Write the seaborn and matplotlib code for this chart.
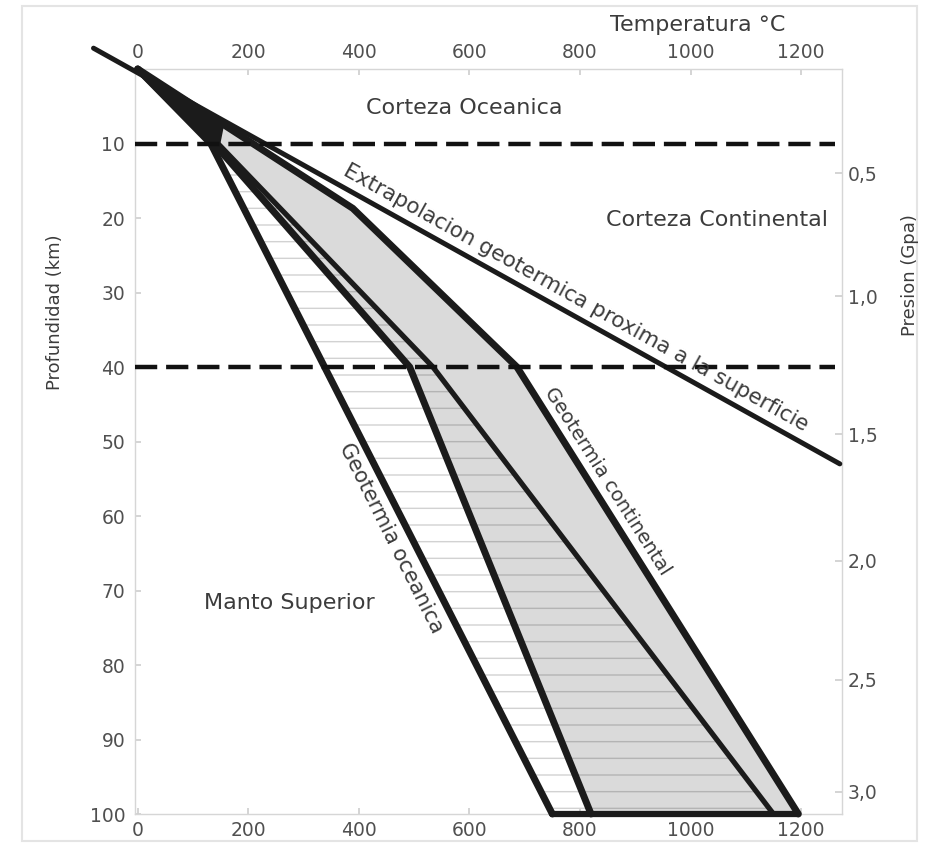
import numpy as np
import pandas as pd
import seaborn as sns
import matplotlib.pyplot as plt
from matplotlib.patches import Rectangle, Polygon

# ---------------- data ----------------
temp_ticks = [0, 200, 400, 600, 800, 1000, 1200]
depth_ticks = [10, 20, 30, 40, 50, 60, 70, 80, 90, 100]
pressure_tick_depth = [14, 30.5, 49, 66, 82, 97]
pressure_labels = ["0,5", "1,0", "1,5", "2,0", "2,5", "3,0"]
crust_boundaries_km = [10, 40]

# geotherms (temperature degC, depth km)
oce_min_T = [0, 132, 750]
oce_min_d = [0, 10, 100]
cont_min_T = [0, 138, 492, 820]
cont_min_d = [0, 10, 40, 100]
oce_max_T = [0, 145, 534, 1150]
oce_max_d = [0, 10, 40, 100]
cont_max_T = [0, 389, 686, 1195]
cont_max_d = [0, 18.7, 40, 100]
extrap_T = [-80, 1270]
extrap_d = [-2.8, 53.0]
wedge_T = [0, 154, 147, 130]
wedge_d = [0, 7.4, 10, 10]

# ---------------- style ----------------
sns.set_theme(style="white")
plt.rcParams['font.family'] = ['DejaVu Sans']
plt.rcParams['hatch.linewidth'] = 1.0

fig = plt.figure(figsize=(9.36, 8.46), dpi=100)
ax = fig.add_axes([0.1442, 0.0378, 0.7554, 0.8806])
ax.set_xlim(-5, 1274)
ax.set_ylim(100, 0)

grid = np.union1d(np.linspace(0, 100, 401),
                  np.array(oce_min_d + cont_min_d + oce_max_d + cont_max_d))
L1 = np.interp(grid, oce_min_d, oce_min_T)
L2 = np.interp(grid, cont_min_d, cont_min_T)
L3 = np.interp(grid, oce_max_d, oce_max_T)
L4 = np.interp(grid, cont_max_d, cont_max_T)

# continental band (grey)
ax.fill_betweenx(grid, L2, L4, color='#dadada', lw=0, zorder=1)
# oceanic band (hatched)
m = grid >= 10
ax.fill_betweenx(grid[m], L1[m], L2[m], facecolor='none', edgecolor='#d2d2d2',
                 hatch='-', lw=0, zorder=2)
ax.fill_betweenx(grid[m], L2[m], L3[m], facecolor='none', edgecolor='#b4b4b4',
                 hatch='-', lw=0, zorder=2)
# black wedge near surface
ax.add_patch(Polygon(np.column_stack([wedge_T, wedge_d]), closed=True,
                     fc='#1b1b1b', ec='#1b1b1b', lw=2, zorder=3))

line_col = '#1b1b1b'
for T, d, lw in [(oce_min_T, oce_min_d, 5.0), (cont_min_T, cont_min_d, 5.0),
                 (oce_max_T, oce_max_d, 3.8), (cont_max_T, cont_max_d, 5.0)]:
    sns.lineplot(x=T, y=d, sort=False, estimator=None, color=line_col, lw=lw,
                 ax=ax, zorder=4, clip_on=False, solid_joinstyle='miter')
# bottom closing edge
sns.lineplot(x=[oce_min_T[-1], cont_max_T[-1]], y=[oce_min_d[-1], cont_max_d[-1]],
             sort=False, estimator=None, color=line_col, lw=4.5, ax=ax, zorder=4,
             clip_on=False)
# extrapolation
sns.lineplot(x=extrap_T, y=extrap_d, sort=False, estimator=None, color=line_col,
             lw=3.6, ax=ax, zorder=4, clip_on=False)

# crust boundaries
for b in crust_boundaries_km:
    ax.hlines(b, -5, 1262, colors='#111111', lw=3.2, linestyles=(0, (5, 2)),
              zorder=5)

# ---------------- text ----------------
tc = '#3c3c3c'
ax.text(590, 5.2, "Corteza Oceanica", ha='center', va='center', fontsize=16,
        color=tc, zorder=6)
ax.text(1249, 20.3, "Corteza Continental", ha='right', va='center',
        fontsize=16, color=tc, zorder=6)
ax.text(275, 71.7, "Manto Superior", ha='center', va='center', fontsize=16,
        color=tc, zorder=6)
ax.text(793, 30.7, "Extrapolacion geotermica proxima a la superficie",
        ha='center', va='center', rotation=-29.1, rotation_mode='anchor',
        fontsize=15.5, color=tc, zorder=6)
ax.text(849, 55.3, "Geotermia continental", ha='center', va='center',
        rotation=-57.5, rotation_mode='anchor', fontsize=14, color=tc, zorder=6)
ax.text(458, 63.0, "Geotermia oceanica", ha='center', va='center',
        rotation=-63.5, rotation_mode='anchor', fontsize=15, color=tc, zorder=6)

fig.text(0.745, 0.970, "Temperatura °C", ha='center', va='center',
         fontsize=16, color=tc)
fig.text(0.059, 0.631, "Profundidad (km)", ha='center', va='center',
         rotation=90, fontsize=13, color=tc)
fig.text(0.972, 0.675, "Presion (Gpa)", ha='center', va='center',
         rotation=90, fontsize=13, color=tc)

# ---------------- axes ----------------
ax.set_xticks(temp_ticks)
ax.set_yticks(depth_ticks)
ax.set_xlabel("")
ax.set_ylabel("")
ax.tick_params(axis='x', top=True, labeltop=True, bottom=True, labelbottom=True,
               direction='in', length=4, color='#cfcfcf', labelsize=13.5,
               labelcolor='#505050', pad=5)
ax.tick_params(axis='y', left=True, direction='in', length=4, color='#cfcfcf',
               labelsize=13.5, labelcolor='#505050', pad=7)
for s in ax.spines.values():
    s.set_color('#d6d6d6')
    s.set_linewidth(1.0)

ax2 = ax.twinx()
ax2.set_ylim(100, 0)
ax2.set_yticks(pressure_tick_depth, pressure_labels)
ax2.tick_params(axis='y', right=True, direction='in', length=5, color='#cfcfcf',
                labelsize=13.5, labelcolor='#505050', pad=4)
for s in ax2.spines.values():
    s.set_visible(False)
ax2.grid(False)
ax.grid(False)

fig.patches.append(Rectangle((0.0235, 0.006), 0.956, 0.987,
                             transform=fig.transFigure, fill=False,
                             ec='#e4e4e4', lw=1.5))

fig.savefig("out.png", dpi=100)
